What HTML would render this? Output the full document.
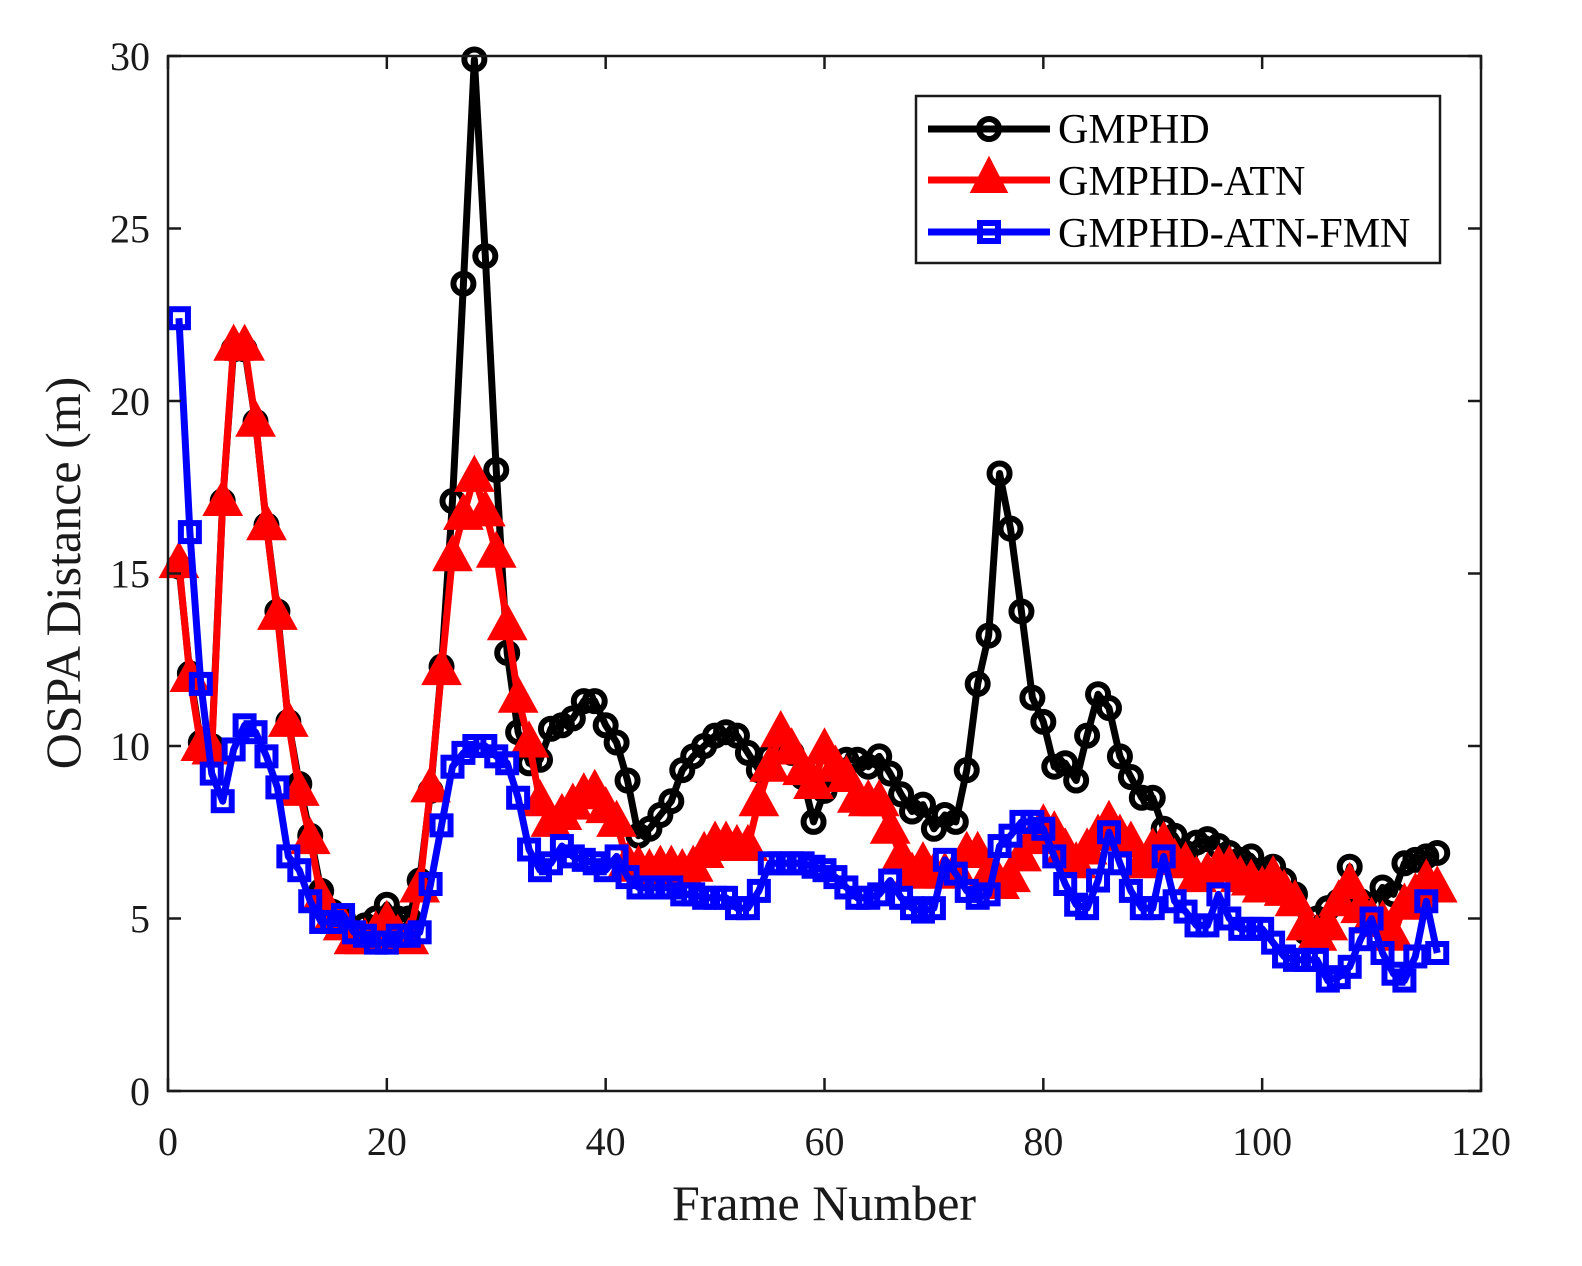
<!DOCTYPE html>
<html><head><meta charset="utf-8"><style>
html,body{margin:0;padding:0;background:#fff;}
svg text{font-family:"Liberation Serif",serif;fill:#1a1a1a;}
</style></head><body>
<svg id="s" width="1582" height="1261" xmlns="http://www.w3.org/2000/svg">
<rect x="0" y="0" width="1582" height="1261" fill="#fff"/>
<g id="plot"></g>
<rect x="168" y="56" width="1313" height="1035" fill="none" stroke="#1a1a1a" stroke-width="2.5"/>
<g id="ticks" stroke="#1a1a1a" stroke-width="2.5"></g>
<g id="labels" font-size="40"></g>
<text x="824" y="1220" font-size="50" text-anchor="middle">Frame Number</text>
<text transform="translate(80,573) rotate(-90)" font-size="50" text-anchor="middle">OSPA Distance (m)</text>
<g>
<rect x="916" y="96" width="524" height="167" fill="#fff" stroke="#1a1a1a" stroke-width="2.5"/>
<line x1="928" y1="129" x2="1050" y2="129" stroke="#000" stroke-width="7"/>
<circle cx="989" cy="129" r="10" fill="none" stroke="#000" stroke-width="6"/>
<line x1="928" y1="180" x2="1050" y2="180" stroke="#f00" stroke-width="7"/>
<polygon points="989,160 1005,191 973,191" fill="#f00" stroke="#f00" stroke-width="4"/>
<line x1="928" y1="232" x2="1050" y2="232" stroke="#00f" stroke-width="7"/>
<rect x="980" y="223" width="18" height="18" fill="none" stroke="#00f" stroke-width="6"/>
<text x="1058" y="143" font-size="42" style="fill:#000">GMPHD</text>
<text x="1058" y="195" font-size="42" style="fill:#000">GMPHD-ATN</text>
<text x="1058" y="247" font-size="42" style="fill:#000">GMPHD-ATN-FMN</text>
</g>
</svg>
<script>
var X=function(v){return 168+v*1313/120;},Y=function(v){return 1091-v*1035/30;};
var ns="http://www.w3.org/2000/svg";
function el(t,a,p){var e=document.createElementNS(ns,t);for(var k in a)e.setAttribute(k,a[k]);p.appendChild(e);return e;}
var tk=document.getElementById('ticks'),lb=document.getElementById('labels');
for(var i=0;i<=120;i+=20){var x=X(i);el('line',{x1:x,y1:1091,x2:x,y2:1078},tk);el('line',{x1:x,y1:56,x2:x,y2:69},tk);
var t=el('text',{x:x,y:1155,'text-anchor':'middle'},lb);t.textContent=i;}
for(var j=0;j<=30;j+=5){var y=Y(j);el('line',{x1:168,y1:y,x2:181,y2:y},tk);el('line',{x1:1481,y1:y,x2:1468,y2:y},tk);
var t=el('text',{x:150,y:y+14,'text-anchor':'end'},lb);t.textContent=j;}
var K=[15.2,12.1,10.1,10,17.1,21.5,21.5,19.4,16.4,13.9,10.7,8.9,7.4,5.8,5.2,5,4.6,4.8,5,5.4,5,5,6.1,8.7,12.3,17.1,23.4,29.9,24.2,18,12.7,10.4,9.5,9.6,10.5,10.6,10.8,11.3,11.3,10.6,10.1,9,7.4,7.6,8,8.4,9.3,9.7,10,10.3,10.4,10.3,9.8,9.3,9.7,10,9.8,9.1,7.8,8.7,9.2,9.6,9.6,9.4,9.7,9.2,8.6,8.1,8.3,7.6,8,7.8,9.3,11.8,13.2,17.9,16.3,13.9,11.4,10.7,9.4,9.5,9,10.3,11.5,11.1,9.7,9.1,8.5,8.5,7.6,7.4,6.9,7.2,7.3,7.1,6.9,6.7,6.8,6.4,6.5,6.1,5.7,4.6,5,5.3,5.5,6.5,5.5,5.4,5.9,5.7,6.6,6.7,6.8,6.9];
var R=[15.3,12,10,9.9,17.1,21.6,21.6,19.4,16.4,13.8,10.7,8.7,7.3,5.6,5,4.8,4.4,4.4,4.6,4.9,4.5,4.4,5.9,8.8,12.2,15.5,16.7,17.8,16.8,15.6,13.5,11.4,10.1,8.4,7.8,8,8.3,8.6,8.7,8.2,7.8,6.6,6.5,6.4,6.5,6.5,6.4,6.5,6.9,7.2,7.2,7.1,7.1,8.4,9.4,10.4,9.9,9.3,8.9,9.9,9.4,9.1,8.5,8.4,8.4,7.6,6.8,6.3,6.6,6.3,6.3,6.4,6.9,6.9,6.3,6,6.2,6.8,7.3,7.7,7.5,7,6.6,7,7.4,7.8,7.4,7.2,6.6,7,7.2,6.7,6.6,6.2,6.3,6.5,6.5,6.2,6.1,5.9,6.2,5.8,5.5,4.8,4.5,4.8,5.5,6,5.3,5,4.9,4.5,5.4,5.7,6.1,5.9];
var B=[22.4,16.2,11.8,9.2,8.4,9.9,10.6,10.4,9.7,8.8,6.8,6.4,5.5,4.9,4.9,5.1,4.6,4.5,4.3,4.3,4.5,4.5,4.6,6,7.7,9.4,9.8,10,10,9.7,9.5,8.5,7,6.4,6.6,7.1,6.8,6.7,6.6,6.4,6.8,6.2,5.9,5.9,5.9,5.9,5.7,5.7,5.6,5.6,5.6,5.3,5.3,5.8,6.6,6.6,6.6,6.6,6.5,6.4,6.2,5.9,5.6,5.6,5.7,6.1,5.6,5.3,5.2,5.3,6.7,6.3,5.8,5.6,5.7,7.1,7.4,7.8,7.8,7.6,6.8,6,5.4,5.3,6.1,7.5,6.6,5.8,5.3,5.3,6.8,5.5,5.2,4.8,4.8,5.7,5,4.7,4.7,4.7,4.3,3.9,3.8,3.8,3.8,3.2,3.3,3.6,4.4,5,4,3.4,3.2,3.9,5.5,4];
var g=document.getElementById('plot');
function series(d,c,m){var p=d.map(function(v,i){return X(i+1)+','+Y(v);}).join(' ');
el('polyline',{points:p,fill:'none',stroke:c,'stroke-width':7,'stroke-linejoin':'round'},g);
d.forEach(function(v,i){var x=X(i+1),y=Y(v);
if(m==0)el('circle',{cx:x,cy:y,r:10,fill:'none',stroke:c,'stroke-width':6},g);
else if(m==1)el('polygon',{points:x+','+(y-18)+' '+(x+17)+','+(y+13)+' '+(x-17)+','+(y+13),fill:c,stroke:c,'stroke-width':4},g);
else el('rect',{x:x-9,y:y-9,width:18,height:18,fill:'none',stroke:c,'stroke-width':6},g);});}
series(K,'#000',0);series(R,'#f00',1);series(B,'#00f',2);
</script>
</body></html>
